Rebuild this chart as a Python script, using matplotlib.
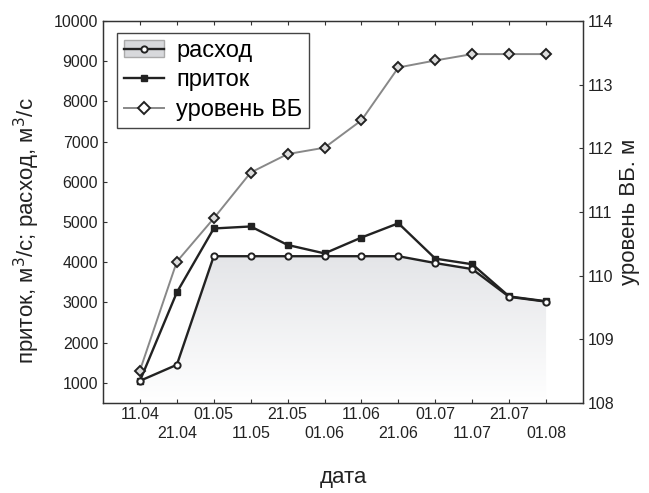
import numpy as np
import matplotlib.pyplot as plt
from matplotlib.colors import LinearSegmentedColormap
from matplotlib.patches import Patch
from matplotlib.lines import Line2D

plt.rcParams['font.family'] = ['Liberation Sans', 'DejaVu Sans']

# Data
dates = ['11.04', '21.04', '01.05', '11.05', '21.05', '01.06',
         '11.06', '21.06', '01.07', '11.07', '21.07', '01.08']
outflow = [1050, 1450, 4150, 4150, 4150, 4150, 4150, 4150, 3980, 3830, 3140, 3020]
inflow = [1050, 3250, 4840, 4890, 4430, 4220, 4615, 4970, 4090, 3950, 3150, 3030]
level = [108.51, 110.22, 110.90, 111.62, 111.91, 112.01,
         112.44, 113.27, 113.38, 113.48, 113.48, 113.48]

x = np.arange(len(dates))
ymin, ymax = 500, 10000
dark = '#222222'
txt = '#222222'

fig = plt.figure(figsize=(6.49, 4.93), dpi=100)
ax = fig.add_axes([0.1587, 0.1826, 0.7396, 0.7748])
ax2 = ax.twinx()

# gradient fill under the outflow curve
fill = ax.fill_between(x, outflow, ymin, color='none', lw=0)
grad = np.linspace(1, 0, 256).reshape(-1, 1)
cmap = LinearSegmentedColormap.from_list('g', ['#ffffff', '#e4e5e8'])
im = ax.imshow(grad, extent=[x[0], x[-1], ymin, max(outflow)], aspect='auto',
               cmap=cmap, zorder=1)
im.set_clip_path(fill.get_paths()[0], transform=ax.transData)

ax.plot(x, outflow, color=dark, lw=1.7, marker='o', ms=4.5, mfc='white',
        mec=dark, mew=1.4, zorder=4)
ax.plot(x, inflow, color=dark, lw=1.7, marker='s', ms=4.5, mfc=dark,
        mec=dark, zorder=3)
ax2.plot(x, level, color='#888888', lw=1.4, marker='D', ms=5.5, mfc='#dcdcdc',
         mec=dark, mew=1.4)

ax.set_xlim(-1, len(dates))
ax.set_ylim(ymin, ymax)
ax2.set_ylim(108, 114)
ax.set_yticks(range(1000, 10001, 1000))
ax2.set_yticks(range(108, 115))

ax.set_xticks(x)
ax.set_xticklabels([d if i % 2 == 0 else '\n' + d for i, d in enumerate(dates)])
for lab in ax.get_xticklabels():
    lab.set_linespacing(1.3)

for a in (ax, ax2):
    for s in a.spines.values():
        s.set_color('#333333')
        s.set_linewidth(0.9)
ax.tick_params(axis='both', direction='in', labelsize=11.5, length=3,
               colors='#333333', labelcolor=txt, top=True)
ax.tick_params(axis='x', pad=3)
ax2.tick_params(axis='y', direction='in', labelsize=11.5, length=3,
                colors='#333333', labelcolor=txt)

ax.set_xlabel('дата', fontsize=16, labelpad=19, color=txt)
ax.set_ylabel('приток, м$^3$/с; расход, м$^3$/с', fontsize=16, color=txt)
ax.yaxis.set_label_coords(-0.128, 0.45)
ax2.set_ylabel('уровень ВБ. м', fontsize=16, rotation=90, labelpad=3,
               color=txt)

h1 = (Patch(facecolor='#d8d9dc', edgecolor='#aaaaaa'),
      Line2D([], [], color=dark, lw=1.7, marker='o', ms=4.5, mfc='white',
             mec=dark, mew=1.4))
h2 = Line2D([], [], color=dark, lw=1.7, marker='s', ms=4.5, mfc=dark, mec=dark)
h3 = Line2D([], [], color='#888888', lw=1.4, marker='D', ms=6, mfc='white',
            mec=dark, mew=1.4)
leg = ax2.legend([h1, h2, h3], ['расход', 'приток', 'уровень ВБ'],
                 loc='upper left', bbox_to_anchor=(0.029, 0.969),
                 fontsize=17, fancybox=False, framealpha=1,
                 edgecolor='#444444', handlelength=1.7, borderpad=0.3,
                 labelspacing=0.32, handletextpad=0.5, borderaxespad=0)
leg.get_frame().set_linewidth(1.0)

fig.savefig('out.png', dpi=100)
